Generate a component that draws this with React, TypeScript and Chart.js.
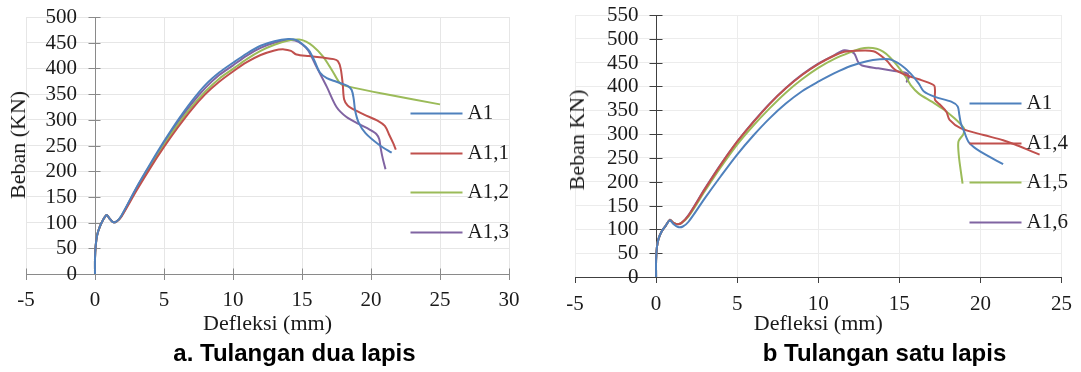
import React, { useEffect, useRef } from 'react';
import { Chart, registerables } from 'chart.js';

Chart.register(...registerables);

const SERIF = "'Times New Roman', 'Liberation Serif', serif";
const SANS = "Arial, 'Liberation Sans', sans-serif";
const TEXT = '#1a1a1a';

const COLORS = ['#4F81BD', '#C0504D', '#9BBB59', '#8064A2'];

// ---------- Chart a: Tulangan dua lapis ----------
const aLabels = ['A1', 'A1,1', 'A1,2', 'A1,3'];
const aXTicksMin = -5;
const aXTicksMax = 30;
const aYMax = 500;

const aA1X = [0, 0, 0.05, 0.15, 0.35, 0.6, 0.85, 1.05, 1.3, 1.55, 1.9, 3, 4, 5, 6, 7, 8, 9, 10, 11, 12, 13, 14, 14.6, 15, 15.5, 15.9, 16.3, 16.8, 17.5, 18.3, 18.6, 18.75, 18.85, 19.1, 19.6, 20.6, 21.5];
const aA1Y = [0, 30, 55, 75, 92, 106, 115, 108, 101, 102, 113, 168, 214, 258, 299, 336, 368, 392, 411, 429, 444, 453, 457, 455, 448, 435, 415, 392, 381, 374, 366, 358, 340, 318, 295, 274, 251, 236];

const aA11X = [0, 0, 0.05, 0.15, 0.35, 0.6, 0.85, 1.05, 1.3, 1.55, 1.9, 3, 4, 5, 6, 7, 8, 9, 10, 11, 12, 13, 13.7, 14.2, 14.6, 15.5, 16.5, 17.3, 17.6, 17.8, 17.95, 18.05, 18.3, 18.6, 19.5, 20.5, 21, 21.3, 21.6, 21.8];
const aA11Y = [0, 30, 55, 75, 92, 106, 115, 108, 101, 102, 111, 162, 206, 247, 285, 320, 350, 374, 394, 412, 426, 435, 437, 434, 427, 424, 421, 418, 414, 400, 370, 340, 328, 322, 310, 298, 288, 272, 255, 242];

const aA12X = [0, 0, 0.05, 0.15, 0.35, 0.6, 0.85, 1.05, 1.3, 1.55, 1.9, 3, 4, 5, 6, 7, 8, 9, 10, 11, 12, 13, 14, 14.8, 15.3, 15.8, 16.5, 17, 17.4, 17.8, 18.3, 21, 25];
const aA12Y = [0, 30, 55, 75, 92, 106, 115, 108, 101, 102, 112, 165, 209, 251, 290, 325, 355, 380, 399, 418, 434, 446, 454, 456, 452, 443, 424, 404, 386, 370, 365, 350, 330];

const aA13X = [0, 0, 0.05, 0.15, 0.35, 0.6, 0.85, 1.05, 1.3, 1.55, 1.9, 3, 4, 5, 6, 7, 8, 9, 10, 11, 12, 13, 14, 14.5, 15, 15.45, 16.05, 16.8, 17.5, 18.2, 19.1, 19.9, 20.4, 20.6, 20.7, 20.85, 21.05];
const aA13Y = [0, 30, 55, 75, 92, 106, 115, 108, 101, 102, 112, 167, 212, 255, 295, 331, 362, 387, 406, 425, 440, 450, 455, 454, 447, 435, 403, 364, 325, 306, 292, 281, 272, 262, 245, 225, 204];

// ---------- Chart b: Tulangan satu lapis ----------
const bLabels = ['A1', 'A1,4', 'A1,5', 'A1,6'];
const bXTicksMin = -5;
const bXTicksMax = 25;
const bYMax = 550;

const bA1X = [0, 0, 0.05, 0.15, 0.35, 0.6, 0.85, 1.05, 1.35, 1.65, 2, 3, 4, 5, 6, 7, 8, 9, 10, 11, 12, 13, 13.8, 14.4, 15.1, 15.7, 16.2, 16.5, 17.2, 18.2, 18.6, 18.7, 18.8, 19, 19.3, 20, 21.4];
const bA1Y = [0, 35, 62, 80, 96, 108, 119, 112, 105, 106, 116, 165, 212, 257, 297, 333, 364, 390, 410, 428, 443, 453, 457, 457, 445, 427, 406, 390, 378, 368, 358, 340, 322, 305, 282, 263, 237];

const bA14X = [0, 0, 0.05, 0.15, 0.35, 0.6, 0.85, 1.05, 1.3, 1.55, 2, 3, 4, 5, 6, 7, 8, 9, 10, 11, 11.6, 11.9, 13.4, 14.2, 14.7, 15.4, 16.2, 16.8, 17.15, 17.2, 17.2, 17.5, 17.9, 18.1, 18.8, 20.2, 21.4, 22.2, 23.65];
const bA14Y = [0, 35, 62, 80, 96, 108, 120, 114, 111, 113, 129, 184, 236, 284, 325, 363, 396, 424, 447, 465, 473, 474, 474, 455, 436, 424, 415, 408, 402, 390, 372, 362, 347, 330, 312, 298, 287, 277, 257];

const bA15X = [0, 0, 0.05, 0.15, 0.35, 0.6, 0.85, 1.05, 1.3, 1.55, 2, 3, 4, 5, 6, 7, 8, 9, 10, 11, 12, 12.6, 13.1, 13.6, 14, 14.4, 14.8, 15.4, 15.7, 16.2, 17, 17.8, 18.4, 18.8, 19.0, 18.95, 18.65, 18.65, 18.75, 18.9];
const bA15Y = [0, 35, 62, 80, 96, 108, 120, 114, 111, 113, 127, 180, 231, 278, 318, 354, 387, 415, 439, 458, 472, 479, 481, 479, 473, 462, 447, 420, 403, 385, 368, 350, 333, 320, 311, 300, 285, 262, 232, 196];

const bA16X = [0, 0, 0.05, 0.15, 0.35, 0.6, 0.85, 1.05, 1.3, 1.55, 2, 3, 4, 5, 6, 7, 8, 9, 10, 11, 11.6, 12.2, 12.45, 12.7, 13.7, 14.6, 15.2, 15.55, 15.45, 15.65];
const bA16Y = [0, 35, 62, 80, 96, 108, 120, 114, 111, 113, 130, 185, 237, 284, 326, 364, 397, 425, 448, 466, 476, 470, 452, 444, 438, 433, 430, 425, 410, 423];

const toPoints = (xs: number[], ys: number[]) => xs.map((x, i) => ({ x, y: ys[i] }));

const sideLegend = {
  id: 'sideLegend',
  afterDraw(chart: any, _args: any, opts: any) {
    const ctx = chart.ctx;
    ctx.save();
    ctx.font = `${opts.fontSize}px ${SERIF}`;
    ctx.textBaseline = 'middle';
    ctx.textAlign = 'left';
    chart.data.datasets.forEach((ds: any, i: number) => {
      const y = Math.round(opts.top + i * opts.gap) + 0.5;
      ctx.strokeStyle = ds.borderColor;
      ctx.lineWidth = 2;
      ctx.beginPath();
      ctx.moveTo(opts.x, y);
      ctx.lineTo(opts.x + opts.len, y);
      ctx.stroke();
      ctx.fillStyle = TEXT;
      ctx.fillText(ds.label, opts.x + opts.len + opts.textGap, y);
    });
    ctx.restore();
  },
};

// tick marks crossing the axes, and y tick labels placed left of the y axis at x = 0
const axisDecor = {
  id: 'axisDecor',
  beforeDatasetsDraw(chart: any, _args: any, opts: any) {
    const { ctx, scales } = chart;
    const xs = scales.x;
    const ys = scales.y;
    const x0 = Math.round(xs.getPixelForValue(0)) + 0.5;
    const y0 = Math.round(ys.getPixelForValue(0)) + 0.5;
    ctx.save();
    ctx.strokeStyle = opts.color;
    ctx.lineWidth = 1;
    ctx.beginPath();
    if (opts.xIn > 0) {
      xs.ticks.forEach((t: any) => {
        const px = Math.round(xs.getPixelForValue(t.value)) + 0.5;
        ctx.moveTo(px, y0);
        ctx.lineTo(px, y0 - opts.xIn);
      });
    }
    ys.ticks.forEach((t: any) => {
      const py = Math.round(ys.getPixelForValue(t.value)) + 0.5;
      ctx.moveTo(x0 - opts.yOut, py);
      ctx.lineTo(x0 + opts.yIn, py);
    });
    ctx.stroke();
    ctx.restore();
  },
  afterDraw(chart: any, _args: any, opts: any) {
    const { ctx, scales } = chart;
    const xs = scales.x;
    const ys = scales.y;
    const x0 = xs.getPixelForValue(0);
    ctx.save();
    ctx.font = `${opts.fontSize}px ${SERIF}`;
    ctx.fillStyle = TEXT;
    ctx.textAlign = 'right';
    ctx.textBaseline = 'middle';
    ys.ticks.forEach((t: any) => {
      ctx.fillText(String(t.label), x0 - opts.labelGap, ys.getPixelForValue(t.value) + 0.5);
    });
    ctx.restore();
  },
};

type Cfg = {
  labels: string[];
  series: { x: number[]; y: number[] }[];
  xMin: number;
  xMax: number;
  yMax: number;
  width: number;
  padL: number;
  padR: number;
  padT: number;
  xAxisH: number;
  axisColor: string;
  gridColor: string;
  xTickPad: number;
  labelGap: number;
  xIn: number;
  yIn: number;
  yOut: number;
  legend: { x: number; top: number; gap: number; len: number; textGap: number };
};

function LoadChart({ cfg }: { cfg: Cfg }) {
  const ref = useRef<HTMLCanvasElement | null>(null);
  useEffect(() => {
    if (!ref.current) return;
    const chart = new Chart(ref.current, {
      type: 'line',
      data: {
        datasets: cfg.series.map((s, i) => ({
          label: cfg.labels[i],
          data: toPoints(s.x, s.y),
          borderColor: COLORS[i],
          backgroundColor: COLORS[i],
          borderWidth: 2,
          pointRadius: 0,
          tension: 0.3,
          fill: false,
        })),
      },
      options: {
        responsive: false,
        animation: false,
        events: [],
        layout: { padding: { left: cfg.padL, right: cfg.padR, top: cfg.padT, bottom: 0 } },
        plugins: {
          legend: { display: false },
          tooltip: { enabled: false },
          sideLegend: { ...cfg.legend, fontSize: 21 },
          axisDecor: {
            color: cfg.axisColor,
            xIn: cfg.xIn,
            yIn: cfg.yIn,
            yOut: cfg.yOut,
            labelGap: cfg.labelGap,
            fontSize: 21,
          },
        } as any,
        scales: {
          x: {
            type: 'linear',
            min: cfg.xMin,
            max: cfg.xMax,
            position: 'bottom',
            ticks: {
              stepSize: 5,
              autoSkip: false,
              maxRotation: 0,
              padding: cfg.xTickPad,
              color: TEXT,
              font: { family: SERIF, size: 21 },
            },
            grid: { color: cfg.gridColor, tickColor: cfg.axisColor, tickLength: 6, lineWidth: 1 },
            border: { color: cfg.axisColor, width: 1 },
            title: {
              display: true,
              text: 'Defleksi (mm)',
              color: TEXT,
              font: { family: SERIF, size: 22 },
              padding: { top: 0, bottom: 35 },
            },
            afterFit: (s: any) => {
              s.height = cfg.xAxisH;
            },
          },
          y: {
            type: 'linear',
            min: 0,
            max: cfg.yMax,
            position: { x: 0 } as any,
            ticks: {
              stepSize: 50,
              autoSkip: false,
              display: false,
              font: { family: SERIF, size: 21 },
            },
            grid: { color: cfg.gridColor, drawTicks: false, lineWidth: 1 },
            border: { color: cfg.axisColor, width: 1 },
          },
        },
      },
      plugins: [sideLegend, axisDecor],
    } as any);
    return () => chart.destroy();
  }, [cfg]);
  return <canvas ref={ref} width={cfg.width} height={372} style={{ display: 'block', width: cfg.width, height: 372 }} />;
}

const cfgA: Cfg = {
  labels: aLabels,
  series: [
    { x: aA1X, y: aA1Y },
    { x: aA11X, y: aA11Y },
    { x: aA12X, y: aA12Y },
    { x: aA13X, y: aA13Y },
  ],
  xMin: aXTicksMin,
  xMax: aXTicksMax,
  yMax: aYMax,
  width: 540,
  padL: 26,
  padR: 31,
  padT: 17,
  xAxisH: 98,
  axisColor: '#8a8a8a',
  gridColor: '#e6e6e6',
  xTickPad: 8,
  labelGap: 18,
  xIn: 6,
  yIn: 5,
  yOut: 7,
  legend: { x: 410.5, top: 113, gap: 39.5, len: 52, textGap: 5 },
};

const cfgB: Cfg = {
  labels: bLabels,
  series: [
    { x: bA1X, y: bA1Y },
    { x: bA14X, y: bA14Y },
    { x: bA15X, y: bA15Y },
    { x: bA16X, y: bA16Y },
  ],
  xMin: bXTicksMin,
  xMax: bXTicksMax,
  yMax: bYMax,
  width: 541,
  padL: 35,
  padR: 13,
  padT: 15,
  xAxisH: 95,
  axisColor: '#404040',
  gridColor: '#ececec',
  xTickPad: 9,
  labelGap: 17.5,
  xIn: 0,
  yIn: 6,
  yOut: 7,
  legend: { x: 429.5, top: 103, gap: 39.5, len: 52, textGap: 5 },
};

const yTitleStyle = (cx: number, cy: number): React.CSSProperties => ({
  position: 'absolute',
  left: cx,
  top: cy,
  transform: 'translate(-50%, -50%) rotate(-90deg)',
  whiteSpace: 'nowrap',
  fontFamily: SERIF,
  fontSize: 22,
  color: TEXT,
  lineHeight: 1,
});

const captionStyle = (cx: number, cy: number): React.CSSProperties => ({
  position: 'absolute',
  left: cx,
  top: cy,
  transform: 'translate(-50%, -50%)',
  whiteSpace: 'nowrap',
  fontFamily: SANS,
  fontWeight: 'bold',
  fontSize: 24,
  color: '#000',
  lineHeight: 1,
});

export default function App() {
  return (
    <div style={{ position: 'fixed', left: 0, top: 0, width: 1081, height: 372, background: '#fff', overflow: 'hidden' }}>
      <div style={{ position: 'absolute', left: 0, top: 0 }}>
        <LoadChart cfg={cfgA} />
      </div>
      <div style={{ position: 'absolute', left: 540, top: 0 }}>
        <LoadChart cfg={cfgB} />
      </div>
      <div style={yTitleStyle(18, 145)}>Beban (KN)</div>
      <div style={yTitleStyle(577, 140)}>Beban KN)</div>
      <div style={captionStyle(294.5, 353)}>a. Tulangan dua lapis</div>
      <div style={captionStyle(884.5, 353)}>b Tulangan satu lapis</div>
    </div>
  );
}
